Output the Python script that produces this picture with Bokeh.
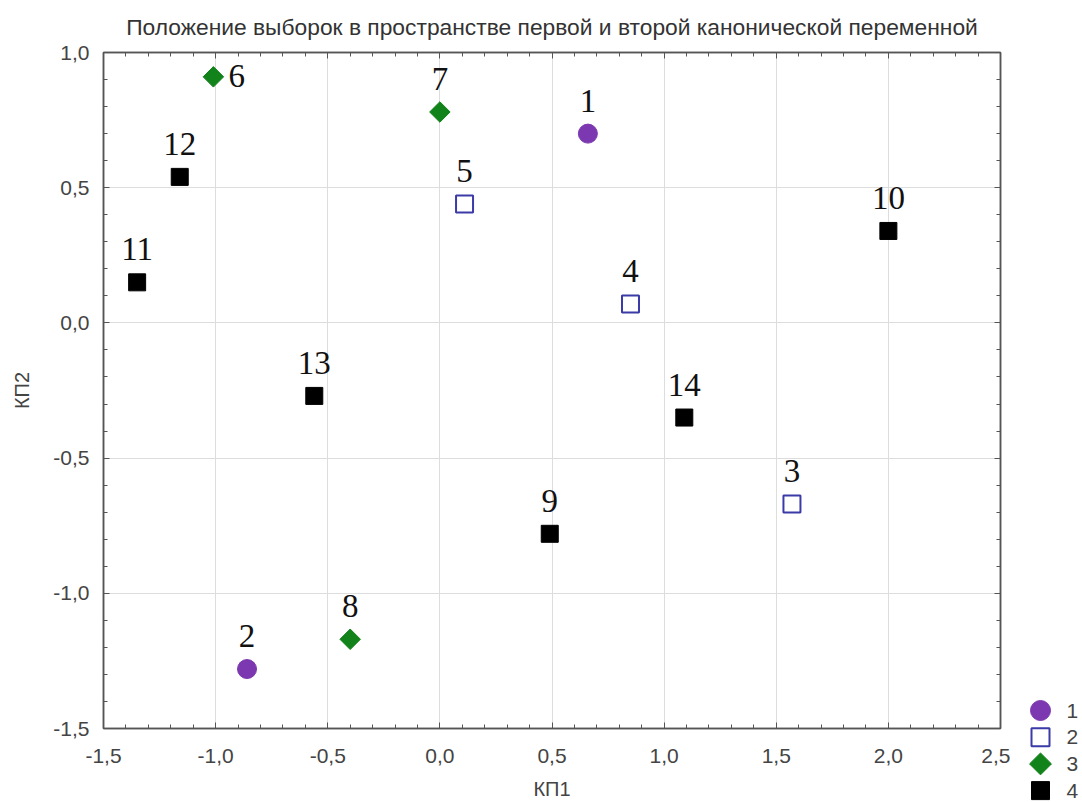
import numpy as np
from bokeh.plotting import figure
from bokeh.layouts import row
from bokeh.models import (ColumnDataSource, LinearAxis, SingleIntervalTicker, CustomJSTickFormatter, Range1d)
from bokeh.core.properties import value
from bokeh.embed import file_html
from bokeh.resources import INLINE

# ---- data ----
labels = ["1", "2", "3", "4", "5", "6", "7", "8", "9", "10", "11", "12", "13", "14"]
kp1 = [0.66, -0.86, 1.57, 0.85, 0.11, -1.01, 0.00, -0.40, 0.49, 2.00, -1.35, -1.16, -0.56, 1.09]
kp2 = [0.70, -1.28, -0.67, 0.07, 0.44, 0.91, 0.78, -1.17, -0.78, 0.34, 0.15, 0.54, -0.27, -0.35]
group = ["1", "1", "2", "2", "2", "3", "3", "3", "4", "4", "4", "4", "4", "4"]
group_names = ["1", "2", "3", "4"]
title_text = "Положение выборок в пространстве первой и второй канонической переменной"
x_label = "КП1"
y_label = "КП2"

MAIN_W = 1010
LEG_W = 1082 - MAIN_W
H = 802

p = figure(width=MAIN_W, height=H, output_backend="svg", toolbar_location=None,
           x_range=Range1d(-1.5, 2.5), y_range=Range1d(-1.5, 1.0),
           min_border_left=103, min_border_right=10, min_border_top=52, min_border_bottom=74,
           x_axis_location=None, y_axis_location=None)
p.frame_align = False
p.background_fill_color = "white"
p.border_fill_color = "white"
p.outline_line_color = "#555555"
p.outline_line_width = 1.5

p.title.text = title_text
p.title.align = "center"
p.title.vertical_align = "top"
p.title.text_font = "Liberation Sans"
p.title.text_font_size = "22.8px"
p.title.text_font_style = "normal"
p.title.text_color = "#333333"
p.title.standoff = 21

fmt = CustomJSTickFormatter(code="return tick.toFixed(1).replace('.', ',');")

def make_axis(show_labels):
    ax = LinearAxis(ticker=SingleIntervalTicker(interval=0.5, num_minor_ticks=5), formatter=fmt)
    ax.major_tick_in = 6
    ax.major_tick_out = 0
    ax.minor_tick_in = 4
    ax.minor_tick_out = 0
    ax.axis_line_color = "#555555"
    ax.axis_line_width = 1.5
    ax.major_tick_line_color = "#555555"
    ax.minor_tick_line_color = "#555555"
    ax.major_label_text_font = "Liberation Sans"
    ax.major_label_text_font_size = "21px"
    ax.major_label_text_color = "#444444"
    ax.axis_label_text_font = "Liberation Sans"
    ax.axis_label_text_font_size = "20px"
    ax.axis_label_text_font_style = "normal"
    ax.axis_label_text_color = "#444444"
    if not show_labels:
        ax.major_label_text_alpha = 0
        ax.major_label_text_font_size = "1px"
        ax.major_label_standoff = 0
    return ax

xb = make_axis(True)
xb.axis_label = x_label
xb.major_label_standoff = 20
xb.axis_label_standoff = 12
p.add_layout(xb, "below")
yl = make_axis(True)
yl.axis_label = y_label
yl.major_label_standoff = 14
yl.axis_label_standoff = 17
p.add_layout(yl, "left")
p.add_layout(make_axis(False), "above")
p.add_layout(make_axis(False), "right")

p.xgrid.ticker = SingleIntervalTicker(interval=0.5)
p.ygrid.ticker = SingleIntervalTicker(interval=0.5)
p.grid.grid_line_color = "#dddddd"
p.grid.grid_line_width = 1

styles = {
    "1": dict(marker="circle", size=19, fill_color="#7b38b0", line_color="#7b38b0", line_width=1, angle=0.0),
    "2": dict(marker="square", size=17, fill_color="white", line_color="#3a3aa8", line_width=2, angle=0.0),
    "3": dict(marker="square", size=14.5, fill_color="#12821a", line_color="#12821a", line_width=1, angle=np.pi / 4),
    "4": dict(marker="square", size=17, fill_color="#000000", line_color="#000000", line_width=1, angle=0.0),
}

for g in group_names:
    idx = [i for i, gg in enumerate(group) if gg == g]
    src = ColumnDataSource(dict(x=[kp1[i] for i in idx], y=[kp2[i] for i in idx]))
    st = styles[g]
    p.scatter("x", "y", source=src, marker=st["marker"], size=st["size"], angle=st["angle"],
              fill_color=st["fill_color"], line_color=st["line_color"], line_width=st["line_width"])

# point labels: above the marker, except label 6 which is to the right
above = [i for i, l in enumerate(labels) if l != "6"]
right = [i for i, l in enumerate(labels) if l == "6"]
src_a = ColumnDataSource(dict(x=[kp1[i] for i in above], y=[kp2[i] for i in above], t=[labels[i] for i in above]))
src_r = ColumnDataSource(dict(x=[kp1[i] for i in right], y=[kp2[i] for i in right], t=[labels[i] for i in right]))
p.text("x", "y", text="t", source=src_a, text_font=value("Liberation Serif"), text_font_size="33px",
       text_align="center", text_baseline="alphabetic", y_offset=-33, text_color="#111111")
p.text("x", "y", text="t", source=src_r, text_font=value("Liberation Serif"), text_font_size="33px",
       text_align="left", text_baseline="alphabetic", x_offset=15, y_offset=-1, text_color="#111111")

# ---- legend panel (separate small figure on the right, pixel-like coordinates) ----
lg = figure(width=LEG_W, height=H, output_backend="svg", toolbar_location=None,
            x_range=Range1d(0, LEG_W), y_range=Range1d(H, 0),
            min_border=0, x_axis_location=None, y_axis_location=None)
lg.frame_align = False
lg.outline_line_color = None
lg.grid.visible = False
lg.background_fill_color = "white"
lg.border_fill_color = "white"
key_x = 30
label_x = 56
row_top = 710
row_step = 26.7
for k, g in enumerate(group_names):
    st = styles[g]
    lg.scatter([key_x], [row_top + k * row_step], marker=st["marker"], size=st["size"] + 1, angle=st["angle"],
               fill_color=st["fill_color"], line_color=st["line_color"], line_width=st["line_width"])
lg.text([label_x] * len(group_names), [row_top + k * row_step for k in range(len(group_names))], text=group_names,
        text_font=value("Liberation Sans"), text_font_size="21px", text_align="left",
        text_baseline="middle", text_color="#444444")

layout = row(p, lg, spacing=0)
open("out.html", "w").write(file_html(layout, INLINE))
